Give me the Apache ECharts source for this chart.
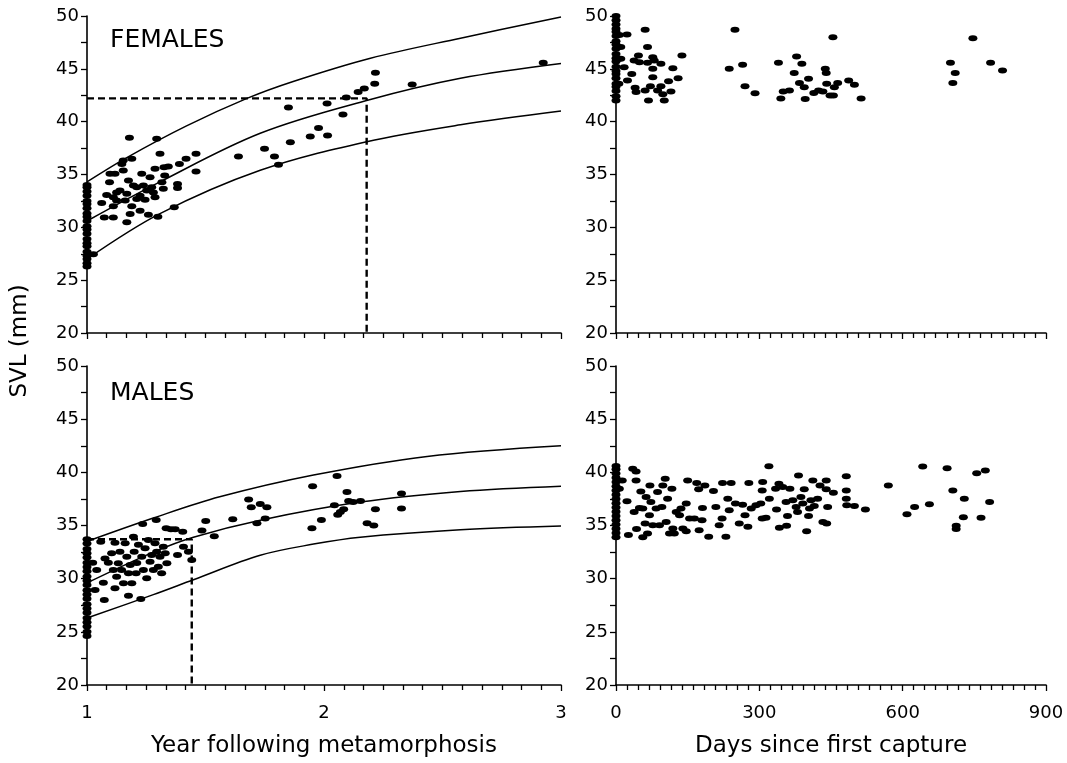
<!DOCTYPE html>
<html>
<head>
<meta charset="utf-8">
<title>SVL growth</title>
<script src="https://cdn.jsdelivr.net/npm/echarts@6/dist/echarts.min.js"></script>
<style>
  html, body { margin: 0; padding: 0; background: #fff; }
  #chart { width: 1067px; height: 763px; }
</style>
</head>
<body>
<div id="chart"></div>
<script>
// axis titles and panel labels
const yTitle = 'SVL (mm)';
const yearTitle = 'Year following metamorphosis';
const daysTitle = 'Days since first capture';
const panelLabels = ['FEMALES', 'MALES'];

// females: SVL vs year following metamorphosis
const femalesYear = [
    [1, 26.3], [1, 26.6], [1, 27.0], [1, 27.3], [1, 27.7], [1, 28.2], [1, 28.5], [1, 28.9], [1, 29.4],
    [1, 29.8], [1, 30.1], [1, 30.6], [1, 31.0], [1, 31.3], [1, 31.8], [1, 32.2], [1, 32.5], [1, 33.0],
    [1, 33.4], [1, 33.8], [1, 34.0],
    [1.027, 27.46], [1.062, 32.3], [1.073, 30.94], [1.083, 33.07], [1.097, 35.06], [1.095, 34.27],
    [1.111, 30.94], [1.118, 35.06], [1.111, 32.84], [1.125, 32.53], [1.147, 36.0], [1.153, 36.33],
    [1.153, 35.38], [1.168, 30.47], [1.175, 34.43], [1.179, 38.48], [1.189, 36.49], [1.182, 31.26],
    [1.139, 33.48], [1.161, 32.53], [1.196, 33.95], [1.21, 32.69], [1.224, 31.58], [1.231, 35.06],
    [1.238, 33.95], [1.259, 31.2], [1.266, 34.74], [1.252, 33.48], [1.287, 32.84], [1.294, 38.39],
    [1.287, 35.54], [1.299, 31.0], [1.308, 36.96], [1.316, 34.27], [1.322, 33.64], [1.325, 35.69],
    [1.343, 35.75], [1.328, 34.9], [1.368, 31.89], [1.382, 34.11], [1.382, 33.73], [1.39, 36.0],
    [1.418, 36.49], [1.46, 36.96], [1.46, 35.28], [1.125, 33.3], [1.168, 33.17], [1.21, 33.8],
    [1.189, 32.0], [1.245, 32.6], [1.273, 33.8], [1.111, 32.0], [1.224, 33.0], [1.28, 33.3],
    [1.639, 36.7], [1.749, 37.44], [1.791, 36.7], [1.808, 35.92], [1.85, 41.33], [1.858, 38.06],
    [1.942, 38.6], [1.977, 39.39], [2.015, 38.7], [2.013, 41.71], [2.08, 40.69], [2.094, 42.28],
    [2.144, 42.81], [2.17, 43.13], [2.214, 43.6], [2.217, 44.62], [2.372, 43.51], [2.925, 45.57]
];

// females growth curves (upper, mean, lower)
const femUpper = [[1, 34.3], [1.168, 36.6], [1.42, 39.6], [1.675, 42.2], [1.87, 43.8], [2.196, 46.0], [2.576, 47.9], [3, 49.9]];
const femMean = [[1, 30.6], [1.308, 34.3], [1.731, 38.9], [2.18, 42.0], [2.576, 44.1], [3, 45.5]];
const femLower = [[1, 27.0], [1.308, 31.3], [1.731, 35.4], [2.18, 38.1], [2.576, 39.7], [3, 41.0]];
const femDash = [[1, 42.2], [2.18, 42.2], [2.18, 20]];

// females: SVL vs days since first capture
const femalesDays = [
    [0, 42.0], [0, 42.4], [0, 42.9], [0, 43.3], [0, 43.6], [0, 44.1], [0, 44.5], [0, 44.8], [0, 45.2],
    [0, 45.7], [0, 46.0], [0, 46.4], [0, 46.9], [0, 47.3], [0, 47.6], [0, 48.1], [0, 48.5], [0, 48.8],
    [0, 49.2], [0, 49.6], [0, 50.0],
    [6, 45.95], [10, 47.06], [10, 45.95], [6, 43.6], [7, 48.2], [23, 48.26], [17, 45.16], [24, 43.9],
    [33, 44.5], [40, 43.2], [42, 42.8], [38, 45.8], [47, 46.27], [49, 45.63], [61, 48.7], [61, 42.94],
    [66, 47.06], [66, 45.57], [68, 42.0], [72, 43.35], [77, 46.1], [77, 45.0], [77, 44.2], [80, 45.8],
    [94, 45.47], [87, 42.94], [94, 43.35], [98, 42.6], [101, 42.0], [110, 43.83], [115, 42.85],
    [119, 45.06], [130, 44.1], [138, 46.27], [237, 45.0], [249, 48.7], [265, 45.38], [270, 43.35],
    [291, 42.7], [340, 45.57], [345, 42.2], [350, 42.85], [363, 42.94], [373, 44.6], [378, 46.17],
    [389, 45.47], [384, 43.67], [394, 43.26], [396, 42.15], [403, 44.05], [414, 42.72], [424, 42.94],
    [433, 42.85], [438, 45.0], [440, 44.6], [441, 43.58], [448, 42.47], [455, 42.47], [454, 48.0],
    [457, 43.26], [464, 43.67], [487, 43.9], [499, 43.5], [513, 42.2], [700, 45.57], [705, 43.67],
    [710, 44.6], [747, 47.9], [784, 45.57], [809, 44.84]
];

// males: SVL vs year following metamorphosis
const malesYear = [
    [1, 24.6], [1, 25.0], [1, 25.5], [1, 25.9], [1, 26.3], [1, 26.8], [1, 27.2], [1, 27.6], [1, 28.1],
    [1, 28.5], [1, 28.9], [1, 29.4], [1, 29.8], [1, 30.2], [1, 30.7], [1, 31.1], [1, 31.5], [1, 32.0],
    [1, 32.4], [1, 32.8], [1, 33.3], [1, 33.7],
    [1.024, 31.5], [1.034, 28.93], [1.041, 30.81], [1.058, 33.48], [1.069, 29.62], [1.073, 28.0],
    [1.076, 31.9], [1.09, 31.5], [1.104, 32.38], [1.111, 30.81], [1.118, 29.1], [1.118, 33.38],
    [1.125, 30.19], [1.132, 31.44], [1.139, 32.53], [1.146, 30.81], [1.154, 29.57], [1.161, 33.32],
    [1.168, 32.07], [1.175, 28.39], [1.175, 30.5], [1.182, 31.28], [1.189, 29.57], [1.196, 33.95],
    [1.199, 32.53], [1.207, 30.5], [1.21, 31.47], [1.217, 33.2], [1.227, 28.08], [1.231, 32.07],
    [1.235, 35.14], [1.238, 30.81], [1.245, 32.85], [1.252, 30.03], [1.259, 33.64], [1.266, 31.6],
    [1.273, 32.22], [1.28, 30.81], [1.287, 33.32], [1.292, 35.52], [1.294, 32.53], [1.301, 31.13],
    [1.308, 32.07], [1.315, 30.5], [1.322, 33.01], [1.33, 32.38], [1.334, 34.74], [1.337, 31.44],
    [1.354, 34.64], [1.372, 34.64], [1.382, 32.22], [1.404, 34.42], [1.407, 33.01], [1.428, 32.53],
    [1.442, 31.76], [1.485, 34.54], [1.501, 35.42], [1.537, 33.99], [1.615, 35.58], [1.682, 37.45],
    [1.693, 36.71], [1.717, 35.2], [1.731, 37.02], [1.752, 35.67], [1.759, 36.71], [1.949, 34.73],
    [1.952, 38.7], [1.989, 35.52], [2.044, 36.9], [2.055, 39.66], [2.058, 36.0], [2.069, 36.27],
    [2.083, 36.52], [2.097, 38.15], [2.104, 37.3], [2.123, 37.2], [2.154, 37.3], [2.182, 35.2],
    [2.21, 35.0], [2.217, 36.52], [2.327, 38.0], [2.327, 36.59]
];

// males growth curves (upper, mean, lower)
const maleUpper = [[1, 33.5], [1.28, 35.7], [1.56, 37.7], [1.956, 39.75], [2.435, 41.5], [3, 42.5]];
const maleMean = [[1, 29.6], [1.28, 32.5], [1.449, 33.9], [1.731, 35.5], [2.153, 37.2], [2.576, 38.2], [3, 38.7]];
const maleLower = [[1, 26.3], [1.28, 28.5], [1.449, 29.9], [1.731, 32.2], [1.956, 33.25], [2.153, 33.9], [2.576, 34.6], [3, 34.95]];
const maleDash = [[1, 33.7], [1.442, 33.7], [1.442, 20]];

// males: SVL vs days since first capture
const malesDays = [
    [0, 33.9], [0, 34.3], [0, 34.7], [0, 35.1], [0, 35.5], [0, 35.9], [0, 36.3], [0, 36.7], [0, 37.1],
    [0, 37.5], [0, 37.9], [0, 38.3], [0, 38.7], [0, 39.1], [0, 39.5], [0, 39.9], [0, 40.3], [0, 40.6],
    [13, 39.24], [7, 38.46], [23, 37.27], [26, 34.1], [35, 40.33], [42, 40.08], [42, 39.24], [38, 36.28],
    [43, 34.66], [49, 36.65], [52, 38.2], [56, 33.9], [56, 36.6], [61, 35.19], [63, 37.68], [66, 34.25],
    [71, 38.77], [70, 35.97], [73, 37.21], [77, 35.03], [84, 36.6], [87, 38.15], [91, 35.03], [96, 36.74],
    [98, 38.77], [103, 39.39], [105, 35.34], [108, 37.52], [112, 34.25], [117, 38.46], [119, 34.72],
    [122, 34.25], [126, 36.28], [133, 35.97], [136, 36.6], [140, 34.72], [147, 37.06], [147, 34.47],
    [150, 39.24], [154, 35.65], [164, 35.65], [169, 38.99], [173, 38.4], [174, 34.56], [180, 35.5],
    [181, 36.65], [186, 38.77], [194, 33.94], [204, 38.24], [209, 36.74], [216, 35.03], [222, 35.65],
    [223, 38.99], [230, 33.94], [234, 37.52], [241, 38.99], [237, 36.43], [250, 37.06], [258, 35.19],
    [265, 36.96], [270, 35.97], [276, 34.88], [278, 38.99], [283, 36.6], [293, 36.9], [303, 37.06],
    [306, 38.3], [307, 39.08], [306, 35.65], [314, 35.72], [320, 40.58], [321, 37.52], [334, 38.46],
    [336, 36.5], [341, 38.93], [342, 34.78], [349, 38.61], [356, 37.21], [357, 34.97], [359, 35.9],
    [364, 38.46], [370, 37.37], [377, 36.74], [380, 36.28], [382, 39.7], [387, 37.68], [391, 37.06],
    [394, 38.4], [399, 34.47], [403, 35.9], [405, 36.6], [408, 37.37], [412, 39.24], [415, 36.84],
    [422, 37.52], [427, 38.77], [433, 35.34], [440, 39.24], [440, 38.4], [441, 35.19], [443, 36.74],
    [455, 38.08], [482, 39.64], [482, 38.3], [482, 37.52], [483, 36.9], [499, 36.84], [522, 36.5],
    [570, 38.77], [609, 36.06], [625, 36.74], [642, 40.55], [656, 36.99], [693, 40.39], [705, 38.3],
    [712, 34.97], [712, 34.66], [727, 35.78], [729, 37.52], [755, 39.92], [764, 35.72], [773, 40.17],
    [782, 37.21]
];

const FONT = 'DejaVu Sans';
const chart = echarts.init(document.getElementById('chart'));

const axisLine = { onZero: false, lineStyle: { color: '#000', width: 1.6 } };
const tick = { show: true, length: 6, lineStyle: { color: '#000', width: 1.3 } };
const makeX = (gridIndex, isYear, showLabel) => ({
    gridIndex,
    type: 'value',
    min: isYear ? 1 : 0,
    max: isYear ? 3 : 900,
    interval: isYear ? 1 : 300,
    axisLine,
    axisTick: tick,
    minorTick: { show: true, splitNumber: isYear ? 12 : 13, length: 5, lineStyle: { color: '#000', width: 1.3 } },
    splitLine: { show: false },
    minorSplitLine: { show: false },
    axisLabel: { show: showLabel, color: '#000', fontSize: 18, fontFamily: FONT, margin: 19 }
});
const makeY = (gridIndex) => ({
    gridIndex,
    type: 'value',
    min: 20,
    max: 50,
    interval: 5,
    axisLine,
    axisTick: tick,
    minorTick: { show: true, splitNumber: 2, length: 6, lineStyle: { color: '#000', width: 1.3 } },
    splitLine: { show: false },
    minorSplitLine: { show: false },
    axisLabel: { color: '#000', fontSize: 18, fontFamily: FONT, margin: 8 }
});

const dots = (data, idx) => ({
    type: 'scatter',
    xAxisIndex: idx,
    yAxisIndex: idx,
    data,
    symbol: 'circle',
    symbolSize: [9, 6],
    itemStyle: { color: '#000', opacity: 1 },
    z: 3
});
const curve = (data, idx) => ({
    type: 'line',
    xAxisIndex: idx,
    yAxisIndex: idx,
    data,
    smooth: 0.35,
    showSymbol: false,
    lineStyle: { color: '#000', width: 1.5 },
    z: 2
});
const dashed = (data, idx) => ({
    type: 'line',
    xAxisIndex: idx,
    yAxisIndex: idx,
    data,
    showSymbol: false,
    lineStyle: { color: '#000', width: 2.4, type: [7, 4] },
    z: 2
});

const option = {
    backgroundColor: '#fff',
    animation: false,
    grid: [
        { left: 87, top: 16, width: 474, height: 317, outerBoundsMode: 'none' },
        { left: 616, top: 16, width: 430, height: 317, outerBoundsMode: 'none' },
        { left: 87, top: 366, width: 474, height: 319, outerBoundsMode: 'none' },
        { left: 616, top: 366, width: 430, height: 319, outerBoundsMode: 'none' }
    ],
    xAxis: [makeX(0, true, false), makeX(1, false, false), makeX(2, true, true), makeX(3, false, true)],
    yAxis: [makeY(0), makeY(1), makeY(2), makeY(3)],
    graphic: [
        { type: 'text', x: 110, y: 40, style: { text: panelLabels[0], fontSize: 25, fontFamily: FONT, fill: '#000', verticalAlign: 'middle' } },
        { type: 'text', x: 110, y: 393, style: { text: panelLabels[1], fontSize: 25, fontFamily: FONT, fill: '#000', verticalAlign: 'middle' } },
        { type: 'text', x: 20, y: 341, rotation: Math.PI / 2, style: { text: yTitle, fontSize: 23, fontFamily: FONT, fill: '#000', align: 'center', verticalAlign: 'middle' } },
        { type: 'text', x: 324, y: 746, style: { text: yearTitle, fontSize: 23, fontFamily: FONT, fill: '#000', align: 'center', verticalAlign: 'middle' } },
        { type: 'text', x: 831, y: 746, style: { text: daysTitle, fontSize: 23, fontFamily: FONT, fill: '#000', align: 'center', verticalAlign: 'middle' } }
    ],
    series: [
        curve(femUpper, 0), curve(femMean, 0), curve(femLower, 0), dashed(femDash, 0), dots(femalesYear, 0),
        dots(femalesDays, 1),
        curve(maleUpper, 2), curve(maleMean, 2), curve(maleLower, 2), dashed(maleDash, 2), dots(malesYear, 2),
        dots(malesDays, 3)
    ]
};
chart.setOption(option);
</script>
</body>
</html>
